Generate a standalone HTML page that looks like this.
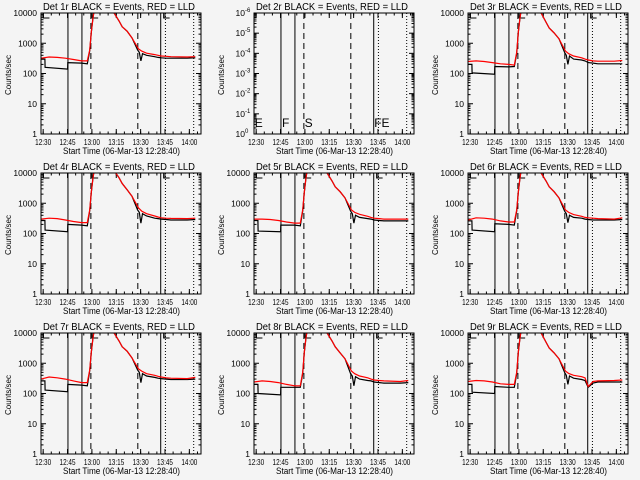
<!DOCTYPE html>
<html><head><meta charset="utf-8">
<style>
html,body{margin:0;padding:0;background:#fff;}
svg{display:block;font-family:"Liberation Sans",sans-serif;}
</style></head>
<body>
<svg id="chart" width="640" height="480" viewBox="0 0 640 480">
<rect x="0" y="0" width="640" height="480" fill="#f4f4f4"/>
</svg>
<script>
// ---- data (minutes after 12:28:40) ----
const tRed = [0,5,10,15,20,25,28.5,30,31,32,33,45,48,50,53,56,60,62,65,70,72,74,77,80,90,95];
const tBlack = [0,2.4,2.5,16.4,16.5,25,28.5,30,31,32,33,45,48,50,53,56,59.5,60.5,61.5,62.5,65,70,72,74,77,80,90,95];
const detNames = ["Det 1r","Det 2r","Det 3r","Det 4r","Det 5r","Det 6r","Det 7r","Det 8r","Det 9r"];
const red1 = [320,350,340,320,290,260,260,600,2500,7000,15000,10000,5500,3500,2500,1500,650,550,470,420,400,380,370,360,350,360];
const red3 = [250,260,250,230,210,200,190,500,2500,7000,15000,10000,5000,3200,2200,1400,550,450,380,330,300,280,260,255,255,270];
const red4 = [300,320,310,280,250,230,230,600,2500,7000,15000,12000,7000,4500,2800,1700,700,550,450,380,350,330,320,315,310,320];
const red5 = [300,300,290,270,240,220,220,600,2500,7000,15000,10000,5500,3500,2400,1500,600,500,430,370,340,320,310,300,300,300];
const red6 = [280,330,320,300,260,240,240,600,2500,7000,15000,10000,5500,3500,2400,1500,600,500,420,370,340,330,320,310,300,330];
const red7 = [300,350,330,300,260,230,230,600,2500,7000,15000,10000,5500,3500,2500,1500,650,550,450,400,370,350,330,320,310,340];
const red8 = [240,260,250,230,200,180,180,500,2500,7000,15000,10000,5500,3500,2200,1400,550,450,380,330,300,280,270,260,250,270];
const red9 = [250,270,260,240,210,200,200,500,2500,7000,15000,10000,5000,3200,2200,1400,550,460,400,360,330,170,250,260,270,280];
const blk1 = [300,300,160,140,230,220,210,550,2400,7000,15000,10000,5500,3500,2500,1500,600,500,260,450,400,360,340,330,320,320,320,330];
const blk3 = [200,200,105,95,170,165,170,450,2400,7000,15000,10000,5000,3200,2200,1400,500,400,200,380,300,280,260,230,220,210,210,210];
const blk4 = [270,270,130,115,200,190,180,550,2400,7000,15000,12000,7000,4500,2800,1700,600,500,220,450,380,320,310,300,290,280,280,290];
const blk5 = [270,270,120,115,190,190,180,550,2400,7000,15000,10000,5500,3500,2400,1500,550,450,220,400,340,310,300,280,270,260,260,260];
const blk6 = [260,260,130,115,210,200,190,550,2400,7000,15000,10000,5500,3500,2400,1500,550,450,230,400,340,320,300,290,280,280,280,290];
const blk7 = [260,260,130,115,200,190,180,550,2400,7000,15000,10000,5500,3500,2500,1500,600,500,230,450,380,340,320,310,300,290,290,300];
const blk8 = [200,200,100,90,160,160,160,450,2400,7000,15000,10000,5500,3500,2200,1400,450,380,180,360,300,270,260,240,230,220,220,230];
const blk9 = [200,200,110,100,170,160,160,450,2400,7000,15000,10000,5000,3200,2200,1400,500,400,200,380,320,290,270,160,220,240,240,240];
const redSeries = [red1,null,red3,red4,red5,red6,red7,red8,red9];
const blackSeries = [blk1,null,blk3,blk4,blk5,blk6,blk7,blk8,blk9];
const xTickLabels = ["12:30","12:45","13:00","13:15","13:30","13:45","14:00"];
const xTickTimes = [1.333,16.333,31.333,46.333,61.333,76.333,91.333];
const yTickLabels = ["1","10","100","1000","10000"];
const yTickValues = [1,10,100,1000,10000];
const y2TickLabels = ["0","-1","-2","-3","-4","-5","-6"];
const markerTimes = [16.6,25.2,30.7,59.6,73.7,76.6,94.0];
const markerStyles = ["solid","solid","dash","dash","solid","dot","dot"];

const NS = "http://www.w3.org/2000/svg";
const svg = document.getElementById("chart");
function mk(tag, attrs, parent){
  const e = document.createElementNS(NS, tag);
  for (const k in attrs) e.setAttribute(k, attrs[k]);
  (parent||svg).appendChild(e); return e;
}
const PW = 160, PH = 121, TMAX = 98.5;

for (let p = 0; p < 9; p++) {
  const col = p % 3, row = Math.floor(p / 3);
  const ox = Math.round(col * 213.3) + 41, oy = row * 160 + 13;
  const g = mk("g", {});
  
  
  const xs = t => ox + t / TMAX * PW;
  const ys = v => oy + PH - Math.log10(v) / 4 * PH;
  const cid = "clip" + p;
  const cp = mk("clipPath", {id: cid}, g);
  mk("rect", {x: ox, y: oy, width: PW, height: PH}, cp);

  const title = mk("text", {x: ox + 2, y: oy - 3, "font-size": "10.5", fill: "#000",
    textLength: "152", lengthAdjust: "spacingAndGlyphs"}, g);
  title.textContent = detNames[p] + " BLACK = Events, RED = LLD";
  
  

  const yl = mk("text", {x: 0, y: 0, "text-anchor": "middle", "font-size": "8.5", fill: "#000",
    textLength: "40", lengthAdjust: "spacingAndGlyphs",
    transform: "translate(" + (ox - 30) + "," + (oy + 62) + ") rotate(-90)"}, g);
  yl.textContent = "Counts/sec";
  
  

  const xl = mk("text", {x: ox + 22, y: oy + PH + 20, "font-size": "9", fill: "#000",
    textLength: "117", lengthAdjust: "spacingAndGlyphs"}, g);
  xl.textContent = "Start Time (06-Mar-13 12:28:40)";
  
  

  for (let i = 0; i < xTickLabels.length; i++) {
    const x = xs(xTickTimes[i]);
    mk("line", {x1: x, x2: x, y1: oy + PH, y2: oy + PH - 5, stroke: "#000"}, g);
    mk("line", {x1: x, x2: x, y1: oy, y2: oy + 5, stroke: "#000"}, g);
    const tl = mk("text", {x: x - 8, y: oy + PH + 11, "font-size": "8.5", fill: "#000",
      textLength: "16", lengthAdjust: "spacingAndGlyphs"}, g);
    tl.textContent = xTickLabels[i];
    
    
  }
  for (let t = 1.333; t < TMAX; t += 5) {
    const x = xs(t);
    mk("line", {x1: x, x2: x, y1: oy + PH, y2: oy + PH - 2.5, stroke: "#000"}, g);
    mk("line", {x1: x, x2: x, y1: oy, y2: oy + 2.5, stroke: "#000"}, g);
  }

  if (p === 1) {
    for (let i = 0; i < y2TickLabels.length; i++) {
      const y = oy + PH - i / 6 * PH;
      mk("line", {x1: ox, x2: ox + 5, y1: y, y2: y, stroke: "#000"}, g);
      mk("line", {x1: ox + PW, x2: ox + PW - 5, y1: y, y2: y, stroke: "#000"}, g);
      const tl = mk("text", {x: ox - 9, y: y + 3, "text-anchor": "end", "font-size": "8.5", fill: "#000"}, g);
      tl.textContent = "10";
      
      
      const ex = mk("text", {x: ox - 9, y: y - 1, "font-size": "6", fill: "#000"}, g);
      ex.textContent = y2TickLabels[i];
      for (let m = 2; m < 10 && i < 6; m++) {
        const yy = y - Math.log10(m) / 6 * PH;
        mk("line", {x1: ox, x2: ox + 2.5, y1: yy, y2: yy, stroke: "#000"}, g);
        mk("line", {x1: ox + PW, x2: ox + PW - 2.5, y1: yy, y2: yy, stroke: "#000"}, g);
      }
    }
    const letters = [["E", 0.5], ["F", 17.2], ["S", 31.2], ["FE", 74.0]];
    letters.forEach(l => {
      const lt = mk("text", {x: xs(l[1]), y: oy + PH - 7, "font-size": "12", fill: "#000"}, g);
      lt.textContent = l[0];
      
      
    });
  } else {
    for (let i = 0; i < yTickValues.length; i++) {
      const y = ys(yTickValues[i]);
      mk("line", {x1: ox, x2: ox + 5, y1: y, y2: y, stroke: "#000"}, g);
      mk("line", {x1: ox + PW, x2: ox + PW - 5, y1: y, y2: y, stroke: "#000"}, g);
      const tl = mk("text", {x: ox - 4, y: y + 3, "text-anchor": "end", "font-size": "8.5", fill: "#000"}, g);
      tl.textContent = yTickLabels[i];
      
      
      if (i < 4) for (let m = 2; m < 10; m++) {
        const yy = ys(yTickValues[i] * m);
        mk("line", {x1: ox, x2: ox + 2.5, y1: yy, y2: yy, stroke: "#000"}, g);
        mk("line", {x1: ox + PW, x2: ox + PW - 2.5, y1: yy, y2: yy, stroke: "#000"}, g);
      }
    }
    [1.5, 31.5, 75.5].forEach(m => {
      mk("path", {d: "M" + xs(m) + " " + oy + " V" + (oy + 5) + " H" + (xs(m) + 6), stroke: "#000", fill: "none"}, g);
    });
  }

  for (let i = 0; i < markerTimes.length; i++) {
    const x = xs(markerTimes[i]);
    const st = markerStyles[i];
    const ln = mk("line", {x1: x, x2: x, y1: oy, y2: oy + PH, stroke: "#000", "stroke-width": 1,
      "stroke-dasharray": st === "dash" ? "6,4" : (st === "dot" ? "1,2" : "none")}, g);
    
    
  }

  if (blackSeries[p]) {
    const b = blackSeries[p];
    const pb = mk("polyline", {points: tBlack.map((t, i) => xs(t).toFixed(1) + "," + ys(b[i]).toFixed(1)).join(" "),
      fill: "none", stroke: "#000", "stroke-width": 1.2, "clip-path": "url(#" + cid + ")"}, g);
    
    
    const r = redSeries[p];
    const pr = mk("polyline", {points: tRed.map((t, i) => xs(t).toFixed(1) + "," + ys(r[i]).toFixed(1)).join(" "),
      fill: "none", stroke: "#ff0000", "stroke-width": 1.2, "clip-path": "url(#" + cid + ")"}, g);
    
    
  }

  const fr = mk("rect", {x: ox, y: oy, width: PW, height: PH, fill: "none", stroke: "#000", "stroke-width": 1}, g);
  
  
}
</script>
</body></html>
